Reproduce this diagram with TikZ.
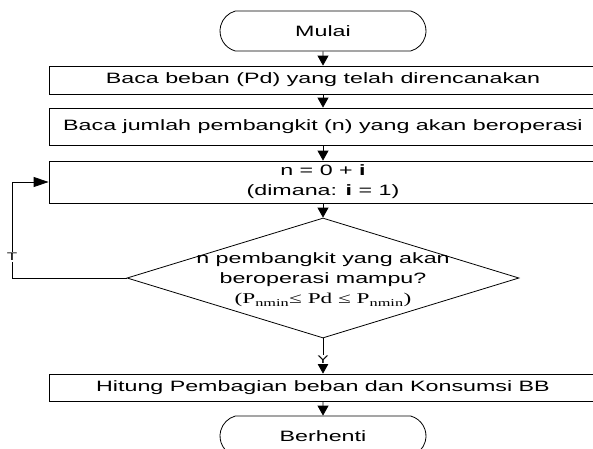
\documentclass[tikz,border=0pt]{standalone}
\usepackage{fontspec}
\setmainfont{Liberation Sans}[FakeStretch=1.55]
\newfontfamily\timesfont{Liberation Serif}[FakeStretch=1.55]
\usetikzlibrary{shapes.geometric,shapes.misc,arrows.meta}

\begin{document}
\begin{tikzpicture}[x=1pt,y=-1pt,line width=0.8pt,
        every node/.style={font=\fontsize{15}{20}\selectfont},
        procbox/.style={draw,rectangle,minimum width=548pt,inner sep=0pt},
        termbox/.style={draw,rounded rectangle,rounded rectangle arc length=150,
            minimum width=206pt,minimum height=40pt,inner sep=0pt},
        decbox/.style={draw,diamond,minimum width=392pt,minimum height=120pt,inner sep=0pt},
        arr/.style={-{Triangle[length=10pt,width=11pt]}},
        harr/.style={-{Triangle[length=15pt,width=10pt]}},
        lbl/.style={fill=white,inner sep=1pt,font=\fontsize{11}{11}\selectfont}]
    \useasboundingbox (0,0) rectangle (593,448);

    \node[termbox] (mulai) at (323,31) {Mulai};
    \node[procbox,minimum height=28pt] (baca1) at (323,80) {Baca beban (Pd) yang telah direncanakan};
    \node[procbox,minimum height=37pt] (baca2) at (323,126.5) {Baca jumlah pembangkit (n) yang akan beroperasi};
    \node[procbox,minimum height=42pt,align=center] (nset) at (323,182)
        {n = 0 + \textbf{i}\\(dimana: \textbf{i} = 1)};
    \node[decbox] (cek) at (323,278) {};
    \node[align=center,inner sep=0pt] (cektxt) at (323,280)
        {n pembangkit yang akan\\beroperasi mampu?\\
         {\timesfont\fontsize{15}{15}\selectfont (P\textsubscript{nmin}≤ Pd ≤ P\textsubscript{nmin})}};
    \node[procbox,minimum height=27pt] (hitung) at (323,387.5) {Hitung Pembagian beban dan Konsumsi BB};
    \node[termbox] (stop) at (323,436) {Berhenti};

    \coordinate (lpb) at (12,278);
    \coordinate (lpt) at (12,182);

    \path (mulai) edge[arr] (baca1);
    \path (baca1) edge[arr] (baca2);
    \path (baca2) edge[arr] (nset);
    \path (nset) edge[arr] (cek);
    \path (cek) edge[arr] node[lbl,pos=0.6] {Y} (hitung);
    \path (hitung) edge[arr] (stop);
    \draw[harr] (cek.west) -- (lpb) -- node[lbl,pos=0.22] {T} (lpt) -- (nset.west);
\end{tikzpicture}
\end{document}
